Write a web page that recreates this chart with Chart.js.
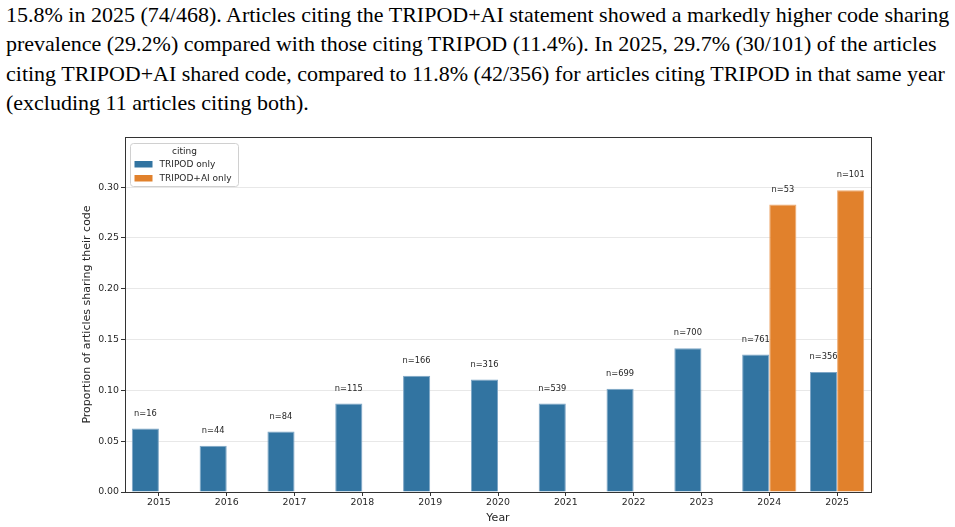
<!DOCTYPE html>
<html>
<head>
<meta charset="utf-8">
<script src="https://cdn.jsdelivr.net/npm/chart.js@4.4.0/dist/chart.umd.min.js"></script>
<style>
  html, body { margin:0; padding:0; background:#fff; width:955px; height:527px; overflow:hidden; }
  #txt { position:absolute; left:6px; top:0px; font-family:"Liberation Serif","Times New Roman",serif; font-size:22px; line-height:29.4px; color:#000; white-space:nowrap; }
  #c { position:absolute; left:0; top:120px; }
</style>
</head>
<body>
<div id="txt">15.8% in 2025 (74/468). Articles citing the TRIPOD+AI statement showed a markedly higher code sharing<br>prevalence (29.2%) compared with those citing TRIPOD (11.4%). In 2025, 29.7% (30/101) of the articles<br>citing TRIPOD+AI shared code, compared to 11.8% (42/356) for articles citing TRIPOD in that same year<br>(excluding 11 articles citing both).</div>
<canvas id="c" width="955" height="407"></canvas>
<script>
const years = ['2015','2016','2017','2018','2019','2020','2021','2022','2023','2024','2025'];
const tripodOnly   = [0.0625, 0.0455, 0.0595, 0.0870, 0.1145, 0.1108, 0.0872, 0.1016, 0.1414, 0.1353, 0.1180];
const tripodAiOnly = [null, null, null, null, null, null, null, null, null, 0.2830, 0.2970];
const nTripod      = [16, 44, 84, 115, 166, 316, 539, 699, 700, 761, 356];
const nTripodAi    = [null, null, null, null, null, null, null, null, null, 53, 101];
const yTicks = [0, 0.05, 0.10, 0.15, 0.20, 0.25, 0.30];

const FONT = '"DejaVu Sans", sans-serif';
const DARK = '#262626';

const nLabelPlugin = {
  id: 'nLabels',
  afterDatasetsDraw(chart) {
    const ctx = chart.ctx;
    const counts = [nTripod, nTripodAi];
    ctx.save();
    ctx.font = '8.3px ' + FONT;
    ctx.fillStyle = DARK;
    ctx.textAlign = 'center';
    ctx.textBaseline = 'middle';
    chart.data.datasets.forEach((ds, di) => {
      const meta = chart.getDatasetMeta(di);
      meta.data.forEach((bar, i) => {
        const n = counts[di][i];
        if (n == null || ds.data[i] == null) return;
        ctx.fillText('n=' + n, bar.x, bar.y - 15);
      });
    });
    ctx.restore();
  }
};

const framePlugin = {
  id: 'frame',
  afterDatasetsDraw(chart) {
    const a = chart.chartArea, ctx = chart.ctx;
    ctx.save();
    ctx.strokeStyle = '#333333';
    ctx.lineWidth = 1;
    ctx.strokeRect(Math.round(a.left) + 0.5, Math.round(a.top) + 0.5, Math.round(a.right - a.left), Math.round(a.bottom - a.top));
    ctx.restore();
  }
};

const legendPlugin = {
  id: 'boxLegend',
  afterDraw(chart) {
    const a = chart.chartArea, ctx = chart.ctx;
    const x = a.left + 5.5, y = a.top + 6.5, w = 108, h = 43, r = 3;
    ctx.save();
    ctx.beginPath();
    ctx.moveTo(x + r, y);
    ctx.arcTo(x + w, y, x + w, y + h, r);
    ctx.arcTo(x + w, y + h, x, y + h, r);
    ctx.arcTo(x, y + h, x, y, r);
    ctx.arcTo(x, y, x + w, y, r);
    ctx.closePath();
    ctx.fillStyle = 'rgba(255,255,255,0.8)';
    ctx.fill();
    ctx.strokeStyle = '#d0d0d0';
    ctx.lineWidth = 1;
    ctx.stroke();
    ctx.font = '9px ' + FONT;
    ctx.fillStyle = DARK;
    ctx.textBaseline = 'middle';
    ctx.textAlign = 'center';
    ctx.fillText('citing', x + w / 2, y + 8);
    ctx.textAlign = 'left';
    chart.data.datasets.forEach((ds, i) => {
      const cy = y + 21 + i * 14;
      ctx.fillStyle = ds.backgroundColor;
      ctx.fillRect(x + 4, cy - 3.5, 18, 6.5);
      ctx.fillStyle = DARK;
      ctx.fillText(ds.label, x + 29, cy);
    });
    ctx.restore();
  }
};

new Chart(document.getElementById('c'), {
  type: 'bar',
  data: {
    labels: years,
    datasets: [
      { label: 'TRIPOD only', data: tripodOnly, backgroundColor: '#3274a1', borderColor: '#7ea6c6', borderWidth: 1 },
      { label: 'TRIPOD+AI only', data: tripodAiOnly, backgroundColor: '#e1812c', borderColor: '#eeaa70', borderWidth: 1 }
    ]
  },
  options: {
    responsive: false,
    devicePixelRatio: 1,
    animation: false,
    layout: { padding: { left: 78, right: 84, top: 17, bottom: 0 } },
    datasets: { bar: { categoryPercentage: 0.8, barPercentage: 1.0 } },
    plugins: { legend: { display: false }, tooltip: { enabled: false } },
    scales: {
      x: {
        grid: { display: true, drawOnChartArea: false, drawTicks: true, tickLength: 4, tickColor: '#333333', offset: false },
        border: { display: false },
        ticks: { color: DARK, font: { family: FONT, size: 9.4 }, padding: 1, maxRotation: 0 },
        title: { display: true, text: 'Year', color: DARK, font: { family: FONT, size: 11 }, padding: { top: 4, bottom: 2 } },
        afterFit(s) { s.height = 35; }
      },
      y: {
        min: 0,
        max: 0.3493,
        afterBuildTicks(s) { s.ticks = yTicks.map(v => ({ value: v })); },
        grid: { color: '#e8e8e8', lineWidth: 1, tickLength: 4, tickColor: '#333333' },
        border: { display: false },
        ticks: { color: DARK, font: { family: FONT, size: 9.4 }, padding: 2, callback: v => Number(v).toFixed(2) },
        title: { display: true, text: 'Proportion of articles sharing their code', color: DARK, font: { family: FONT, size: 11 }, padding: { top: 3, bottom: 2 } },
        afterFit(s) { s.width = 47; }
      }
    }
  },
  plugins: [nLabelPlugin, framePlugin, legendPlugin]
});
</script>
</body>
</html>
